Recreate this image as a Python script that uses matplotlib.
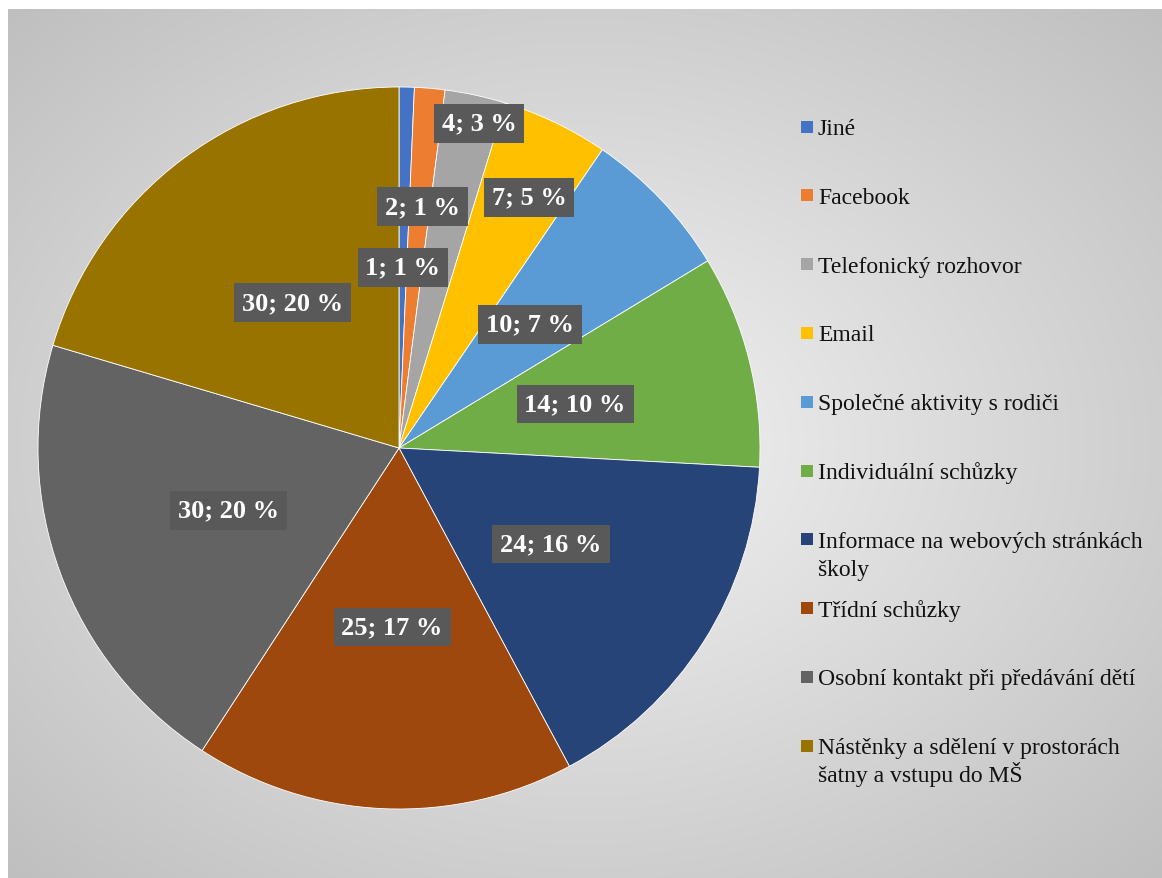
import numpy as np
import matplotlib
matplotlib.use('Agg')
import matplotlib.pyplot as plt
from matplotlib.patches import Rectangle

plt.rcParams['font.family'] = ['Liberation Serif', 'DejaVu Serif']

categories = ["Jiné", "Facebook", "Telefonický rozhovor", "Email",
              "Společné aktivity s rodiči", "Individuální schůzky",
              "Informace na webových stránkách\nškoly", "Třídní schůzky",
              "Osobní kontakt při předávání dětí",
              "Nástěnky a sdělení v prostorách\nšatny a vstupu do MŠ"]
counts = [1, 2, 4, 7, 10, 14, 24, 25, 30, 30]
pct_labels = ["1 %", "1 %", "3 %", "5 %", "7 %", "10 %", "16 %", "17 %", "20 %", "20 %"]
colors = ["#4472C4", "#ED7D31", "#A5A5A5", "#FFC000", "#5B9BD5",
          "#70AD47", "#264478", "#9E480E", "#636363", "#997300"]

# where the data labels sit (pie data coords, radius = 1)
label_pos = [(0.011, 0.501), (0.066, 0.668), (0.222, 0.900), (0.360, 0.695),
             (0.363, 0.343), (0.488, 0.122), (0.421, -0.266), (-0.019, -0.496),
             (-0.471, -0.172), (-0.296, 0.402)]

W, H = 1162, 879
fig = plt.figure(figsize=(W / 100, H / 100), dpi=100)
fig.patch.set_facecolor('white')

# chart area with radial gradient
bg = fig.add_axes([8 / W, 0, 1 - 8 / W, (H - 10) / H])
yy, xx = np.mgrid[-1:1:400j, -1:1:500j]
d = np.sqrt(xx ** 2 + yy ** 2) / np.sqrt(2)
shade = 243 - 52 * d
img = np.dstack([shade, shade, shade]) / 255.0
bg.imshow(img, aspect='auto', extent=[0, 1, 0, 1], interpolation='bilinear')
bg.set_axis_off()

# pie
cx, cy, r = 399, 449, 361
ax = fig.add_axes([(cx - r) / W, (H - cy - r) / H, 2 * r / W, 2 * r / H])
ax.pie(counts, colors=colors, startangle=90, counterclock=False, radius=1,
       wedgeprops=dict(edgecolor='white', linewidth=0.6))
ax.set_xlim(-1, 1)
ax.set_ylim(-1, 1)
ax.set_aspect('equal')
ax.set_axis_off()

for (x, y), c, p in zip(label_pos, counts, pct_labels):
    ax.text(x, y, f"{c}; {p}", ha='center', va='center', color='white',
            fontsize=19, fontweight='bold',
            bbox=dict(boxstyle='square,pad=0.3', facecolor='#595959', edgecolor='none'))

# legend drawn manually to keep Excel's even spacing
top, step, line_h = 127.5, 68.8, 28
for i, (name, col) in enumerate(zip(categories, colors)):
    yc = top + i * step
    fig.patches.append(Rectangle((801 / W, 1 - (yc + 6) / H), 12 / W, 12 / H,
                                 transform=fig.transFigure, facecolor=col,
                                 edgecolor='none'))
    for k, line in enumerate(name.split('\n')):
        fig.text(818 / W, 1 - (yc + 7.5 + k * line_h) / H, line, ha='left',
                 va='baseline', fontsize=17, color='#111111')

fig.savefig('out.png', dpi=100)
